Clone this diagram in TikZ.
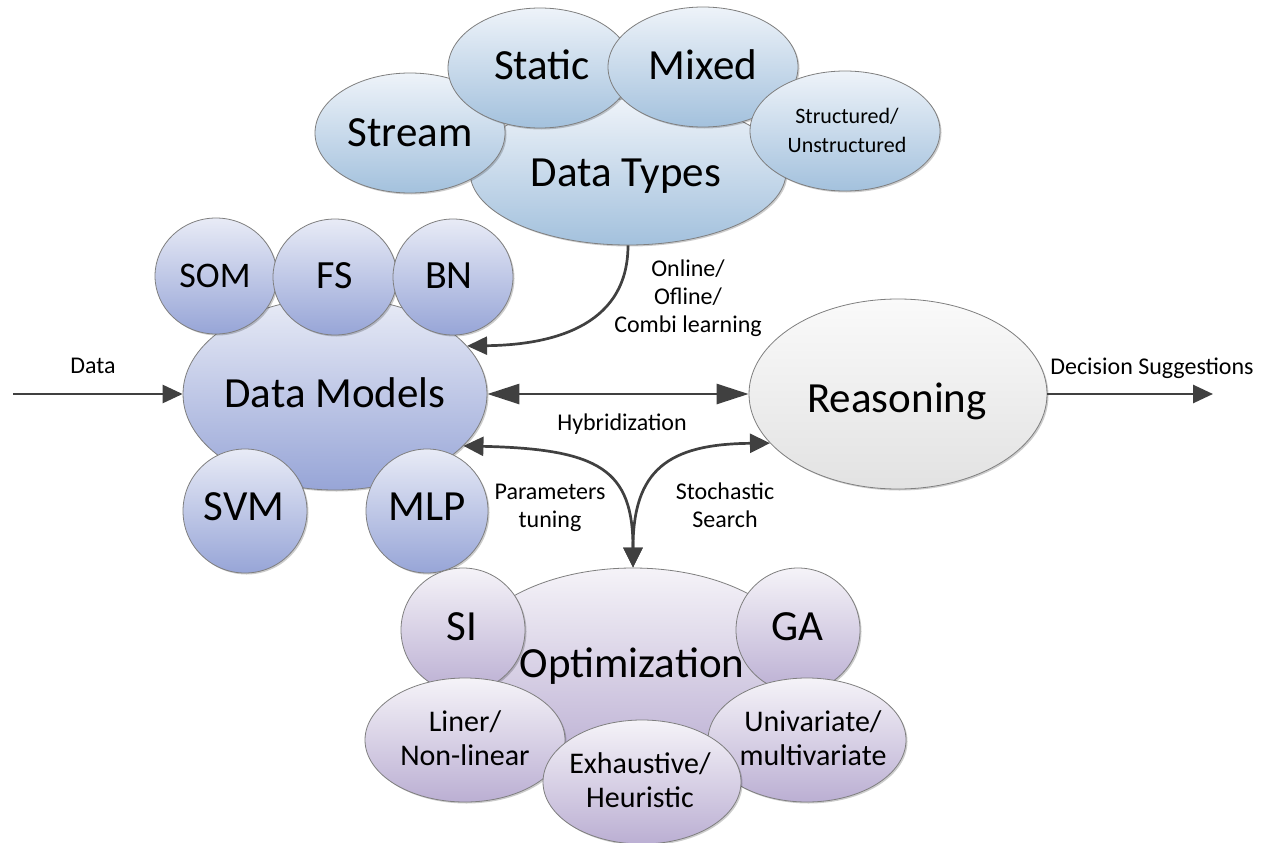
\documentclass[tikz,border=0pt]{standalone}
\usepackage{fontspec}
\setmainfont{Carlito}
\usetikzlibrary{arrows.meta,shapes.geometric,shadows}

\definecolor{dtop}{HTML}{EEF3F9}
\definecolor{dbot}{HTML}{A3C1DD}
\definecolor{mtop}{HTML}{E8EBF6}
\definecolor{mbot}{HTML}{97A5D7}
\definecolor{otop}{HTML}{F5F3F8}
\definecolor{obot}{HTML}{BBAFD3}
\definecolor{rtop}{HTML}{FAFAFA}
\definecolor{rbot}{HTML}{E2E2E2}
\definecolor{edgegray}{HTML}{7F7F7F}
\definecolor{ink}{HTML}{404040}

\begin{document}
\begin{tikzpicture}[x=1pt,y=-1pt,
  ell/.style={ellipse, draw=edgegray, line width=0.8pt, inner sep=0pt,
    drop shadow={shadow xshift=1.5pt,shadow yshift=-1.5pt,opacity=0.2,fill=black}},
  blu/.style={ell, top color=dtop, bottom color=dbot},
  mod/.style={ell, top color=mtop, bottom color=mbot},
  opti/.style={ell, top color=otop, bottom color=obot},
  rea/.style={ell, top color=rtop, bottom color=rbot},
  tbig/.style={inner sep=0pt, anchor=base, font={\fontsize{43pt}{50pt}\selectfont}},
  tforty/.style={inner sep=0pt, anchor=base, font={\fontsize{40pt}{46pt}\selectfont}},
  tsom/.style={inner sep=0pt, anchor=base, font={\fontsize{36pt}{42pt}\selectfont}},
  tmid/.style={inner sep=0pt, anchor=base, align=center, font={\fontsize{30pt}{34pt}\selectfont}},
  tsmall/.style={inner sep=0pt, anchor=base, align=center, font={\fontsize{22pt}{29pt}\selectfont}},
  lab/.style={inner sep=0pt, anchor=base, align=center, font={\fontsize{24pt}{28pt}\selectfont}},
  arr/.style={draw=ink, line width=2.7pt, -{Triangle[length=20pt,width=18pt]}},
  darr/.style={draw=ink, line width=2.7pt, {Triangle[length=20pt,width=19pt]}-{Triangle[length=20pt,width=19pt]}},
  harr/.style={draw=ink, line width=2.7pt, {Triangle[length=32pt,width=20pt]}-{Triangle[length=32pt,width=20pt]}}
]
\fill[white] (0,0) rectangle (1266,843);
\useasboundingbox (0,0) rectangle (1266,843);

% ---------- Data Types cluster ----------
\node[blu, minimum width=316pt, minimum height=146pt] (dt) at (628,172) {};
\node[blu, minimum width=190pt, minimum height=120pt] (stream) at (410,133) {};
\node[blu, minimum width=184pt, minimum height=120pt] (static) at (540,68) {};
\node[blu, minimum width=190pt, minimum height=120pt] (mixed) at (703,67) {};
\node[blu, minimum width=190pt, minimum height=120pt] (struct) at (845,131) {};
\node[tbig] (dtT) at (626,186) {Data Types};
\node[tbig] (streamT) at (410,146) {Stream};
\node[tbig] (staticT) at (542,80) {Static};
\node[tbig] (mixedT) at (703,80) {Mixed};
\node[tsmall] (structT) at (847,152) {Structured/\\Unstructured};

% ---------- Data Models cluster ----------
\node[mod, minimum width=304pt, minimum height=192pt] (dm) at (335,394) {};
\node[mod, minimum width=122pt, minimum height=116pt] (som) at (216,276) {};
\node[mod, minimum width=124pt, minimum height=116pt] (fs) at (335,277) {};
\node[mod, minimum width=120pt, minimum height=116pt] (bn) at (453,277) {};
\node[mod, minimum width=124pt, minimum height=124pt] (svm) at (245,511) {};
\node[mod, minimum width=122pt, minimum height=124pt] (mlp) at (427,511) {};
\node[tbig] (dmT) at (335,407) {Data Models};
\node[tsom] (somT) at (215,287) {SOM};
\node[tforty] (fsT) at (335,288) {FS};
\node[tforty] (bnT) at (449,288) {BN};
\node[tbig] (svmT) at (244,520) {SVM};
\node[tbig] (mlpT) at (427,520) {MLP};

% ---------- Reasoning ----------
\node[rea, minimum width=298pt, minimum height=190pt] (re) at (898,394) {};
\node[tbig] (reT) at (897,412) {Reasoning};

% ---------- Optimization cluster ----------
\node[opti, minimum width=344pt, minimum height=200pt] (opt) at (633,668) {};
\node[opti, minimum width=124pt, minimum height=124pt] (si) at (463,630) {};
\node[opti, minimum width=124pt, minimum height=124pt] (ga) at (798,630) {};
\node[opti, minimum width=200pt, minimum height=124pt] (lin) at (465,740) {};
\node[opti, minimum width=198pt, minimum height=124pt] (uni) at (807,740) {};
\node[opti, minimum width=198pt, minimum height=124pt] (exh) at (642,782) {};
\node[tbig] (siT) at (462,640) {SI};
\node[tbig] (gaT) at (797,640) {GA};
\node[tmid] (linT) at (465,765) {Liner/\\Non-linear};
\node[tmid] (uniT) at (813,765) {Univariate/\\multivariate};
\node[tmid] (exhT) at (640,807) {Exhaustive/\\Heuristic};
\node[tbig] (optT) at (632,677) {Optimization};

% ---------- connectors ----------
\coordinate (din) at (13,394);
\coordinate (dout) at (1213,394);
\draw[arr] (din) -- (dm.west);
\draw[arr] (re.east) -- (dout);
\draw[arr] (dt.south) .. controls (628,330) and (545,345) .. (dm.20);
\draw[harr] (dm.east) -- (re.west);
\draw[darr] (dm.-22) .. controls (600,449) and (633,470) .. (opt.north);
\draw[darr] (re.201) .. controls (668,444) and (633,470) .. (opt.north);

% ---------- labels ----------
\node[lab] (ldata) at (93,373) {Data};
\node[lab] (lonline) at (688,332) {Online/\\Ofline/\\Combi learning};
\node[lab] (lhyb) at (622,430) {Hybridization};
\node[lab] (lpar) at (550,527) {Parameters\\tuning};
\node[lab] (lsto) at (725,527) {Stochastic\\Search};
\node[lab] (ldec) at (1152,374) {Decision Suggestions};
\end{tikzpicture}
\end{document}
